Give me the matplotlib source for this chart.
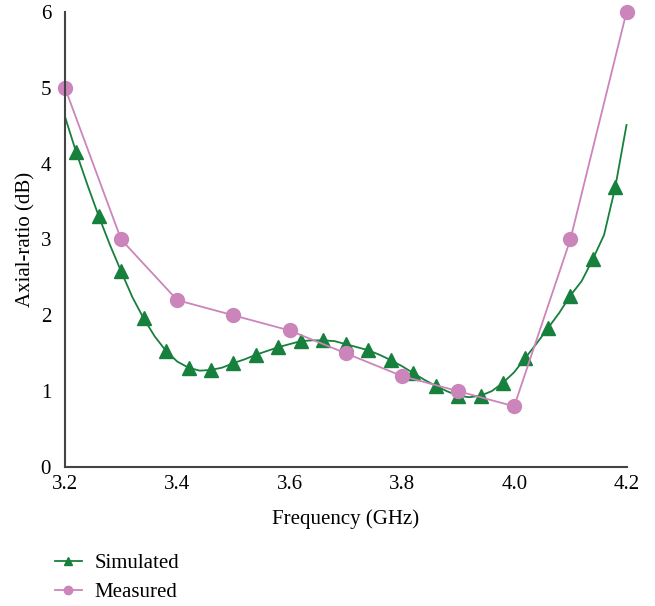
import matplotlib.pyplot as plt
import numpy as np

plt.rcParams['font.family'] = ['Liberation Serif', 'DejaVu Serif']

# simulated curve, sampled every 0.02 GHz (markers on every other point)
sim_freq = np.round(np.arange(3.20, 4.201, 0.02), 2)
sim_ar = [4.62, 4.15, 3.72, 3.31, 2.93, 2.58, 2.24, 1.96, 1.72, 1.53,
          1.39, 1.31, 1.27, 1.28, 1.31, 1.37, 1.42, 1.48, 1.53, 1.58,
          1.62, 1.66, 1.67, 1.67, 1.66, 1.62, 1.58, 1.54, 1.48, 1.41,
          1.33, 1.24, 1.15, 1.07, 1.00, 0.94, 0.92, 0.94, 1.00, 1.11,
          1.25, 1.44, 1.63, 1.83, 2.03, 2.26, 2.45, 2.74, 3.06, 3.69,
          4.51]

meas_freq = [3.2, 3.3, 3.4, 3.5, 3.6, 3.7, 3.8, 3.9, 4.0, 4.1, 4.2]
meas_ar = [5.0, 3.0, 2.2, 2.0, 1.8, 1.5, 1.2, 1.0, 0.8, 3.0, 6.0]

green = '#16803c'
pink = '#cc85bb'
fs = 15

fig = plt.figure(figsize=(6.55, 6.06), dpi=100)
ax = fig.add_axes([0.0992, 0.2294, 0.8573, 0.7508])

ax.plot(sim_freq, sim_ar, color=green, lw=1.3, marker='^', markersize=10,
        markevery=slice(1, None, 2), label='Simulated', clip_on=False)
ax.plot(meas_freq, meas_ar, color=pink, lw=1.3, marker='o', markersize=10,
        label='Measured', clip_on=False)

ax.set_xlim(3.2, 4.2)
ax.set_ylim(0, 6)
ax.set_xticks([3.2, 3.4, 3.6, 3.8, 4.0, 4.2])
ax.set_xticklabels(['3.2', '3.4', '3.6', '3.8', '4.0', '4.2'])
ax.set_yticks(range(7))
ax.tick_params(length=0, labelsize=fs)
ax.tick_params(axis='y', pad=10)
ax.tick_params(axis='x', pad=6)
for s in ['top', 'right']:
    ax.spines[s].set_visible(False)
for s in ['left', 'bottom']:
    ax.spines[s].set_color('#444444')
    ax.spines[s].set_linewidth(1.5)

ax.set_xlabel('Frequency (GHz)', fontsize=fs, labelpad=11)
ax.set_ylabel('Axial-ratio (dB)', fontsize=fs, labelpad=4)

h, l = ax.get_legend_handles_labels()
fig.legend(h, l, loc='upper left', bbox_to_anchor=(0.055, 0.117), frameon=False,
           fontsize=fs, markerscale=0.6, handlelength=1.3, handletextpad=0.6,
           labelspacing=0.45)

fig.savefig('out.png', dpi=100)
